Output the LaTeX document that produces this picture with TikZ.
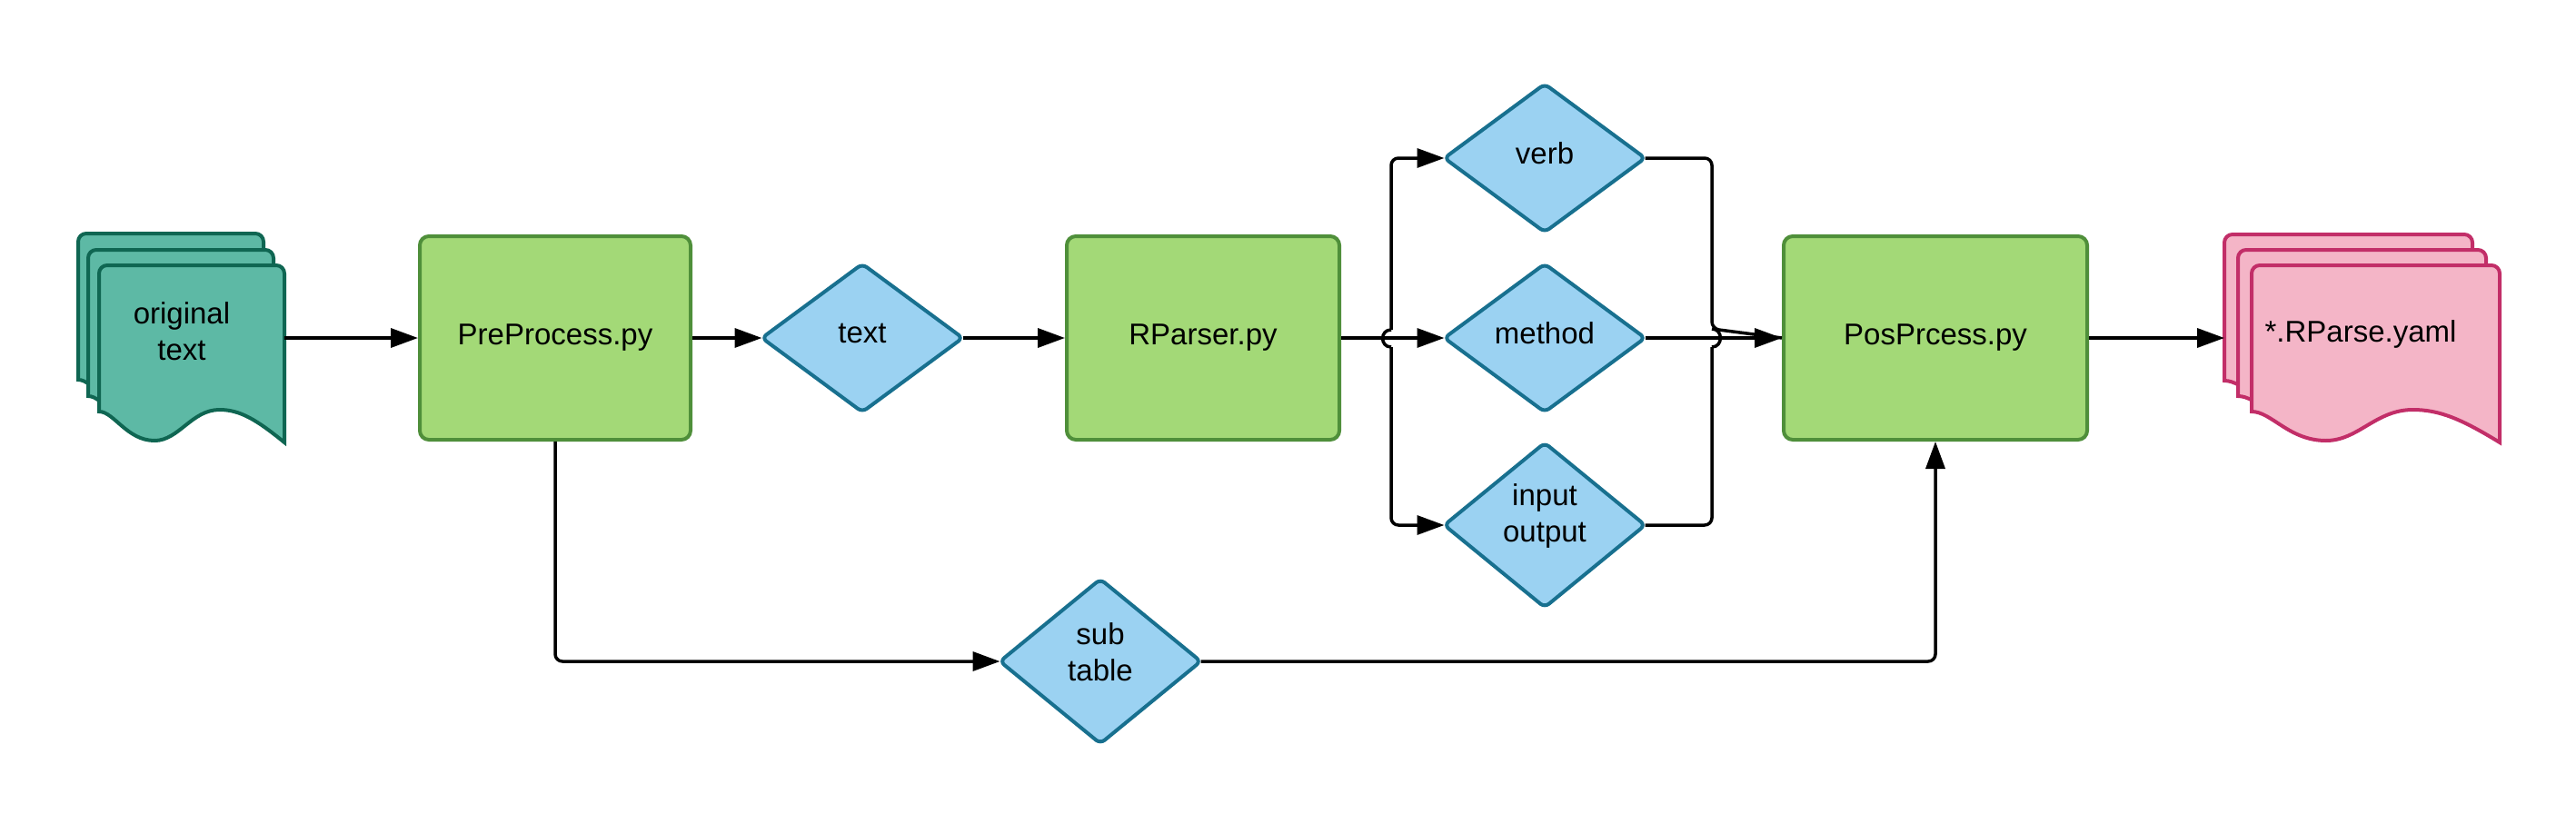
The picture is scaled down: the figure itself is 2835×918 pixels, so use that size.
\documentclass[tikz,border=0pt]{standalone}
\usepackage{fontspec}
\setmainfont{Liberation Sans}
\usetikzlibrary{shapes.geometric,arrows.meta,calc}
\definecolor{docfill}{HTML}{5DB9A5}
\definecolor{docline}{HTML}{0F6652}
\definecolor{pinkfill}{HTML}{F4B5C7}
\definecolor{pinkline}{HTML}{C22E68}
\definecolor{procfill}{HTML}{A3D977}
\definecolor{procline}{HTML}{4F8F3A}
\definecolor{decfill}{HTML}{9BD2F2}
\definecolor{decline}{HTML}{18708F}
\newcommand\docsheet[4]{%
\path[#4] (#1,#2+161) -- (#1,#2+9) .. controls (#1,#2+4) and (#1+4,#2) .. (#1+9,#2)
 -- (#1+#3-9,#2) .. controls (#1+#3-4,#2) and (#1+#3,#2+4) .. (#1+#3,#2+9)
 -- (#1+#3,#2+195) .. controls (#1+0.85*#3,#2+170) and (#1+0.76*#3,#2+159) .. (#1+0.65*#3,#2+159)
 .. controls (#1+0.5*#3,#2+159) and (#1+0.43*#3,#2+193) .. (#1+0.3*#3,#2+193)
 .. controls (#1+0.15*#3,#2+193) and (#1+0.08*#3,#2+161) .. (#1,#2+161) -- cycle;}
\begin{document}
\begin{tikzpicture}[x=1pt,y=-1pt,
 every node/.style={font=\fontsize{33}{40}\selectfont, align=center},
 proc/.style={draw=procline, fill=procfill, line width=4pt, rounded corners=10pt, minimum height=224pt, inner sep=0pt},
 dec/.style={diamond, draw=decline, fill=decfill, line width=4pt, rounded corners=6pt, minimum width=221pt, minimum height=163pt, inner sep=0pt, outer sep=0pt},
 tealdoc/.style={draw=docline, fill=docfill, line width=4pt},
 pinkdoc/.style={draw=pinkline, fill=pinkfill, line width=4pt},
 conn/.style={line width=3.5pt, rounded corners=8pt},
 arr/.style={-{Triangle[length=30pt,width=21pt]}}]
\fill[white] (0,0) rectangle (2835,918);
\useasboundingbox (0,0) rectangle (2835,918);
% document stacks
\docsheet{86}{257}{204}{tealdoc}
\docsheet{97}{275}{204}{tealdoc}
\docsheet{109}{292}{204}{tealdoc}
\node (orig) at (200,365) {original\\text};
\coordinate (origE) at (313,372);
\docsheet{2448}{258}{273}{pinkdoc}
\docsheet{2463}{275}{273}{pinkdoc}
\docsheet{2478}{292}{273}{pinkdoc}
\node (yaml) at (2598,368) {*.RParse.yaml};
\coordinate (yamlW) at (2448,372);
% process boxes
\node[proc, minimum width=298pt] (pre) at (611,372) {PreProcess.py};
\node[proc, minimum width=300pt] (rp) at (1324,372) {RParser.py};
\node[proc, minimum width=334pt] (pos) at (2130,372) {PosPrcess.py};
% decisions
\node[dec] (txt) at (949,372) {};
\node (txtl) at (949,367) {text};
\node[dec] (verb) at (1700,174) {};
\node (verbl) at (1700,169) {verb};
\node[dec] (meth) at (1700,372) {};
\node (methl) at (1700,367) {method};
\node[dec, minimum height=181pt] (io) at (1700,578) {};
\node (iol) at (1700,568) {input\\output};
\node[dec, minimum height=181pt] (sub) at (1211,728) {};
\node (subl) at (1211,718) {sub\\table};
% bus coordinates
\coordinate (lbu) at (1531,363);
\coordinate (lbd) at (1531,382);
\coordinate (rbu) at (1884,362);
\coordinate (rbd) at (1884,382);
% connectors
\draw[conn,arr] (origE) -- (pre.west);
\draw[conn,arr] (pre.east) -- (txt.west);
\draw[conn,arr] (txt.east) -- (rp.west);
\draw[conn,arr] (rp.east) -- (meth.west);
\draw[conn,arr] (lbu) |- (verb.west);
\draw[conn,arr] (lbd) |- (io.west);
\draw[conn] (lbu) .. controls +(-12.5,0) and +(-12.5,0) .. (lbd);
\draw[conn] (verb.east) -| (rbu) -- (pos.west);
\draw[conn] (io.east) -| (rbd);
\draw[conn] (rbu) .. controls +(12.5,0) and +(12.5,0) .. (rbd);
\draw[conn,arr] (meth.east) -- (pos.west);
\draw[conn,arr] (pos.east) -- (yamlW);
\draw[conn,arr] (pre.south) |- (sub.west);
\draw[conn,arr] (sub.east) -| (pos.south);
\end{tikzpicture}
\end{document}
